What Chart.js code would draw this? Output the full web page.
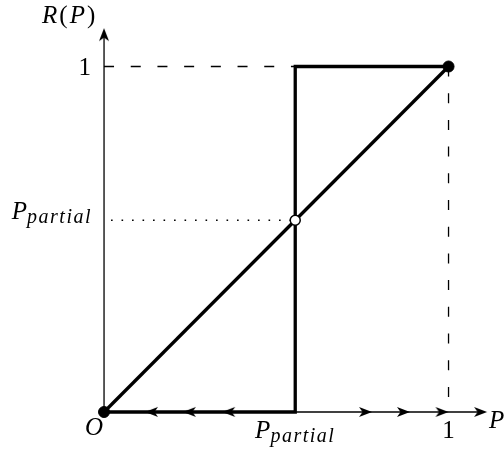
<!DOCTYPE html>
<html lang="en">
<head>
    <meta charset="UTF-8">
    <title>R(P)</title>
    <script src="https://cdn.jsdelivr.net/npm/chart.js"></script>
    <style>
        body { margin: 0; background: #fff; }
        #wrap { width: 504px; height: 450px; }
    </style>
</head>
<body>
    <div id="wrap"><canvas id="myChart"></canvas></div>

    <script>
        // values (unit square, P on x, R(P) on y)
        const pPartial = 0.555;
        const axisTipX = 1.112;
        const axisTipY = 1.111;
        const diagonalX = [0, 1];
        const diagonalY = [0, 1];
        const stepX = [0, pPartial, pPartial, 1];
        const stepY = [0, 0, 1, 1];
        const leftArrowsX = [0.119, 0.229, 0.343];
        const rightArrowsX = [0.778, 0.888, 1.0];
        const filledDotsX = [0, 1];
        const filledDotsY = [0, 1];
        const xTickLabels = ['O', 'P_partial', '1'];
        const yTickLabels = ['1', 'P_partial'];

        const pts = (xs, ys) => xs.map((x, i) => ({ x: x, y: ys[i] }));

        // stealth-like arrow head, tip at the centre of its canvas
        function arrowHead() {
            const c = document.createElement('canvas');
            c.width = 28; c.height = 12;
            const g = c.getContext('2d');
            g.fillStyle = '#000';
            g.beginPath();
            g.moveTo(14, 6);
            g.lineTo(1, 1);
            g.lineTo(4.5, 6);
            g.lineTo(1, 11);
            g.closePath();
            g.fill();
            return c;
        }
        const arrow = arrowHead();

        function line(data, width, dash, order) {
            return {
                type: 'line', data: data, borderColor: '#000', borderWidth: width,
                borderDash: dash || [], pointRadius: 0, fill: false, tension: 0,
                borderJoinStyle: 'miter', order: order
            };
        }

        // text labels with math-style subscripts
        const serif = '"Liberation Serif", "DejaVu Serif", serif';
        function mathLabel(ctx, text, x, y, align) {
            const parts = text.split('_');
            ctx.letterSpacing = '0px';
            ctx.font = 'italic 25px ' + serif;
            const wMain = ctx.measureText(parts[0]).width;
            let wSub = 0;
            if (parts[1]) {
                ctx.font = 'italic 20px ' + serif;
                ctx.letterSpacing = '1.5px';
                wSub = ctx.measureText(parts[1]).width;
                ctx.letterSpacing = '0px';
            }
            const w = wMain + wSub;
            let left = x;
            if (align === 'right') left = x - w;
            if (align === 'center') left = x - w / 2;
            ctx.textAlign = 'left';
            ctx.textBaseline = 'alphabetic';
            ctx.font = (/^[0-9]/.test(parts[0]) ? '' : 'italic ') + '25px ' + serif;
            ctx.fillText(parts[0], left, y);
            if (parts[1]) {
                ctx.font = 'italic 20px ' + serif;
                ctx.letterSpacing = '1.5px';
                ctx.fillText(parts[1], left + wMain, y + 4);
                ctx.letterSpacing = '0px';
            }
        }

        const labelPlugin = {
            id: 'labels',
            afterDraw(chart) {
                const ctx = chart.ctx;
                const sx = chart.scales.x, sy = chart.scales.y;
                const x0 = sx.getPixelForValue(0), y0 = sy.getPixelForValue(0);
                ctx.save();
                ctx.fillStyle = '#000';
                // y axis title R(P)
                let left = x0 - 62;
                const base = sy.getPixelForValue(axisTipY) - 5;
                [['R', 'italic '], ['(', ''], ['P', 'italic '], [')', '']].forEach(p => {
                    ctx.font = p[1] + '25px ' + serif;
                    ctx.fillText(p[0], left, base);
                    left += ctx.measureText(p[0]).width + 2;
                });
                // y tick labels
                mathLabel(ctx, yTickLabels[0], x0 - 13, sy.getPixelForValue(1) + 8, 'right');
                mathLabel(ctx, yTickLabels[1], x0 - 12, sy.getPixelForValue(pPartial) - 1, 'right');
                // x tick labels
                mathLabel(ctx, xTickLabels[0], x0 - 1, y0 + 23, 'right');
                mathLabel(ctx, xTickLabels[1], sx.getPixelForValue(pPartial), y0 + 26, 'center');
                mathLabel(ctx, xTickLabels[2], sx.getPixelForValue(1), y0 + 26, 'center');
                // x axis title
                mathLabel(ctx, 'P', sx.getPixelForValue(axisTipX) + 2, y0 + 16, 'left');
                ctx.restore();
            }
        };

        const ctx = document.getElementById('myChart').getContext('2d');
        const chart = new Chart(ctx, {
            type: 'scatter',
            data: {
                datasets: [
                    line(pts([0, 0], [0, axisTipY - 0.01]), 1.3, null, 9),
                    line(pts([0, axisTipX - 0.01], [0, 0]), 1.3, null, 9),
                    line(pts([0, pPartial], [1, 1]), 1.3, [10, 16.7], 8),
                    line(pts([1, 1], [1, 0]), 1.3, [10, 16.7], 8),
                    Object.assign(line(pts([0, pPartial], [pPartial, pPartial]), 1.6, [1.6, 8.9], 8), { borderDashOffset: -7 }),
                    line(pts(diagonalX, diagonalY), 3.3, null, 5),
                    line(pts(stepX, stepY), 3.3, null, 5),
                    {
                        data: leftArrowsX.map(x => ({ x: x, y: 0 })),
                        showLine: false, pointStyle: arrow, pointRotation: 180, pointRadius: 5, order: 3
                    },
                    {
                        data: rightArrowsX.map(x => ({ x: x, y: 0 })).concat([{ x: axisTipX, y: 0 }]),
                        showLine: false, pointStyle: arrow, pointRotation: 0, pointRadius: 5, order: 3
                    },
                    {
                        data: [{ x: 0, y: axisTipY }],
                        showLine: false, pointStyle: arrow, pointRotation: -90, pointRadius: 5, order: 3
                    },
                    {
                        data: pts(filledDotsX, filledDotsY),
                        showLine: false, pointStyle: 'circle', pointRadius: 5.5,
                        pointBackgroundColor: '#000', pointBorderColor: '#000', pointBorderWidth: 1, order: 1
                    },
                    {
                        data: [{ x: pPartial, y: pPartial }],
                        showLine: false, pointStyle: 'circle', pointRadius: 5,
                        pointBackgroundColor: '#fff', pointBorderColor: '#000', pointBorderWidth: 1.5, order: 1
                    }
                ]
            },
            options: {
                responsive: true,
                maintainAspectRatio: false,
                animation: false,
                layout: { padding: 0, autoPadding: false },
                plugins: { legend: { display: false }, tooltip: { enabled: false } },
                events: [],
                scales: {
                    x: { type: 'linear', display: false, min: -0.302, max: 1.161 },
                    y: { type: 'linear', display: false, min: -0.110, max: 1.1925 }
                }
            },
            plugins: [labelPlugin]
        });
    </script>
</body>
</html>
